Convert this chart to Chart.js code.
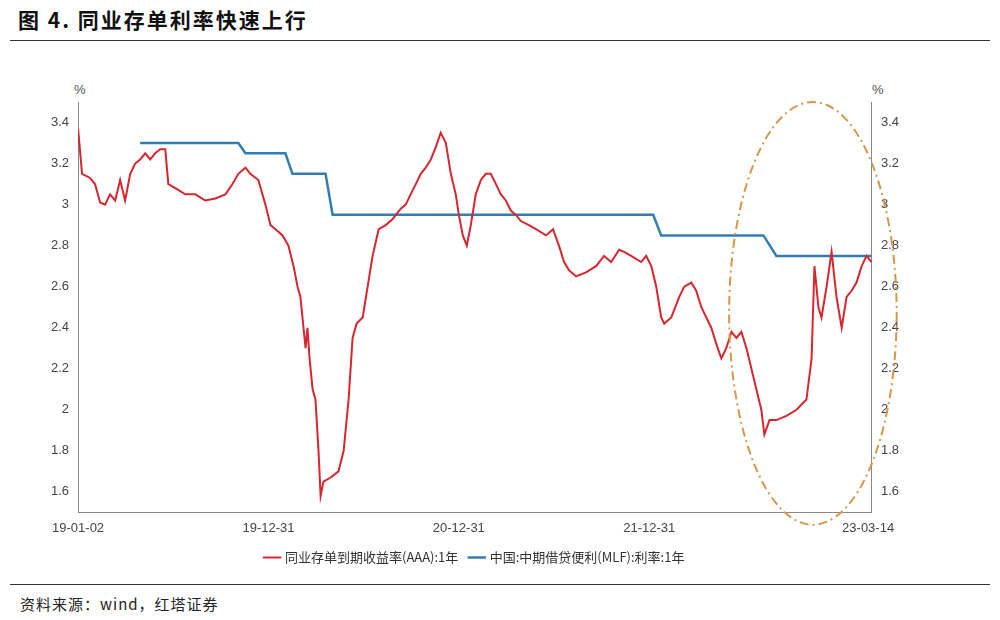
<!DOCTYPE html>
<html>
<head>
<meta charset="utf-8">
<script src="https://cdn.jsdelivr.net/npm/chart.js@4"></script>
<style>
  body { margin: 0; width: 1000px; height: 620px; background: #fff; font-family: "Noto Sans CJK SC", sans-serif; position: relative; }
  #title { position: absolute; left: 18px; top: 4px; font-size: 21px; font-weight: bold; color: #111; letter-spacing: 2px; }
  #topline { position: absolute; left: 10px; right: 10px; top: 40px; border-top: 1.5px solid #333; }
  #wrap { position: absolute; left: 27px; top: 82px; width: 876px; height: 492px; }
  #bottomline { position: absolute; left: 10px; right: 10px; top: 584px; border-top: 1.5px solid #333; }
  #source { position: absolute; left: 20px; top: 593px; font-size: 15px; color: #222; letter-spacing: 1px; }
  .pct { position: absolute; top: 82px; font-size: 13px; color: #555; font-family: "Liberation Sans", sans-serif; }
</style>
</head>
<body>
<div id="title">图 4. 同业存单利率快速上行</div>
<div id="topline"></div>
<div class="pct" style="left:74px">%</div>
<div class="pct" style="left:872px">%</div>
<div id="wrap"><canvas id="c"></canvas></div>
<div id="bottomline"></div>
<div id="source">资料来源：wind，红塔证券</div>
<script>
// x = years since 2019-01-02
const tickPos = [0, 1, 2, 3, 4.15];
const tickLabels = ['19-01-02', '19-12-31', '20-12-31', '21-12-31', '23-03-14'];

const ncdX = [0,.021,.063,.089,.116,.142,.168,.195,.221,.247,.274,.3,.326,.353,.379,.405,.432,.458,.474,.511,.563,.616,.668,.721,.774,.811,.842,.879,.905,.947,.984,1.011,1.037,1.074,1.105,1.132,1.153,1.168,1.184,1.195,1.205,1.216,1.232,1.247,1.263,1.274,1.289,1.326,1.368,1.395,1.421,1.442,1.463,1.495,1.521,1.547,1.579,1.616,1.653,1.695,1.721,1.747,1.774,1.8,1.826,1.853,1.879,1.905,1.932,1.958,1.984,2.0,2.021,2.042,2.063,2.089,2.116,2.142,2.168,2.195,2.221,2.247,2.274,2.3,2.326,2.368,2.405,2.458,2.495,2.526,2.553,2.579,2.616,2.668,2.721,2.763,2.8,2.842,2.868,2.905,2.958,2.984,3.011,3.037,3.063,3.079,3.116,3.158,3.184,3.221,3.247,3.274,3.3,3.326,3.353,3.379,3.405,3.432,3.458,3.484,3.511,3.537,3.563,3.589,3.605,3.632,3.668,3.721,3.774,3.826,3.853,3.868,3.889,3.905,3.932,3.958,3.984,4.011,4.037,4.063,4.089,4.116,4.142,4.168];
const ncdY = [3.37,3.15,3.13,3.10,3.01,3.00,3.05,3.02,3.12,3.02,3.15,3.20,3.22,3.25,3.22,3.25,3.27,3.27,3.10,3.08,3.05,3.05,3.02,3.03,3.05,3.10,3.15,3.18,3.15,3.12,3.00,2.90,2.88,2.85,2.80,2.70,2.60,2.55,2.40,2.30,2.40,2.25,2.10,2.05,1.80,1.58,1.65,1.67,1.70,1.80,2.05,2.35,2.42,2.45,2.60,2.75,2.88,2.90,2.93,2.98,3.00,3.05,3.10,3.15,3.18,3.22,3.28,3.35,3.30,3.15,3.05,2.95,2.85,2.80,2.90,3.05,3.12,3.15,3.15,3.10,3.05,3.02,2.97,2.95,2.92,2.90,2.88,2.85,2.88,2.80,2.72,2.68,2.65,2.67,2.70,2.75,2.72,2.78,2.77,2.75,2.72,2.75,2.70,2.60,2.45,2.42,2.45,2.55,2.60,2.62,2.58,2.50,2.45,2.40,2.32,2.25,2.30,2.38,2.35,2.38,2.30,2.20,2.10,2.00,1.88,1.95,1.95,1.97,2.00,2.05,2.25,2.70,2.50,2.45,2.60,2.77,2.55,2.40,2.55,2.58,2.62,2.70,2.75,2.72];

const mlfX = [.326,.842,.879,1.089,1.126,1.3,1.337,3.021,3.063,3.6,3.668,4.168];
const mlfY = [3.30,3.30,3.25,3.25,3.15,3.15,2.95,2.95,2.85,2.85,2.75,2.75];

const toPts = (xs, ys) => xs.map((x, i) => ({ x: x, y: ys[i] }));

const ellipsePlugin = {
    id: 'ellipse',
    afterDatasetsDraw(chart) {
        const { ctx, scales: { x, y } } = chart;
        const cx = x.getPixelForValue(3.86), cy = y.getPixelForValue(2.47);
        const rx = x.getPixelForValue(4.3) - cx, ry = cy - y.getPixelForValue(3.5);
        ctx.save();
        ctx.strokeStyle = '#d9964a';
        ctx.lineWidth = 2;
        ctx.setLineDash([9, 4, 2, 4]);
        ctx.beginPath();
        ctx.ellipse(cx, cy, rx, ry, 0, 0, Math.PI * 2);
        ctx.stroke();
        ctx.restore();
    }
};

const tickFont = { family: 'Liberation Sans', size: 13 };
const yTicks = [1.6, 1.8, 2, 2.2, 2.4, 2.6, 2.8, 3, 3.2, 3.4];
const yAxis = (pos) => ({
    type: 'linear', position: pos, min: 1.5, max: 3.5,
    afterBuildTicks: s => { s.ticks = yTicks.map(v => ({ value: v })); },
    grid: { display: false, drawTicks: true, tickLength: 5, color: '#888' },
    border: { display: true, color: '#888' },
    ticks: { font: tickFont, color: '#444', padding: 4, callback: v => String(v) }
});

new Chart(document.getElementById('c'), {
    type: 'line',
    data: {
        datasets: [
            { label: '同业存单到期收益率(AAA):1年', data: toPts(ncdX, ncdY), borderColor: '#d8262e', borderWidth: 2, pointRadius: 0, tension: 0 },
            { label: '中国:中期借贷便利(MLF):利率:1年', data: toPts(mlfX, mlfY), borderColor: '#2f7fb5', borderWidth: 2.5, pointRadius: 0, tension: 0 }
        ]
    },
    options: {
        responsive: true,
        maintainAspectRatio: false,
        animation: false,
        layout: { padding: { left: 20, right: 0, top: 20 } },
        plugins: {
            legend: {
                position: 'bottom',
                labels: { usePointStyle: true, pointStyle: 'line', boxWidth: 30, padding: 12, color: '#333', font: { family: 'Noto Sans CJK SC', size: 13 } }
            },
            tooltip: { enabled: false }
        },
        scales: {
            x: {
                type: 'linear', min: 0, max: 4.17,
                afterBuildTicks: s => { s.ticks = tickPos.map(v => ({ value: v })); },
                grid: { display: false, drawTicks: true, tickLength: 5, color: '#888' },
                border: { display: true, color: '#888' },
                ticks: { font: tickFont, color: '#444', maxRotation: 0, callback: v => tickLabels[tickPos.indexOf(v)] }
            },
            y: yAxis('left'),
            y2: yAxis('right')
        }
    },
    plugins: [ellipsePlugin]
});
</script>
</body>
</html>
